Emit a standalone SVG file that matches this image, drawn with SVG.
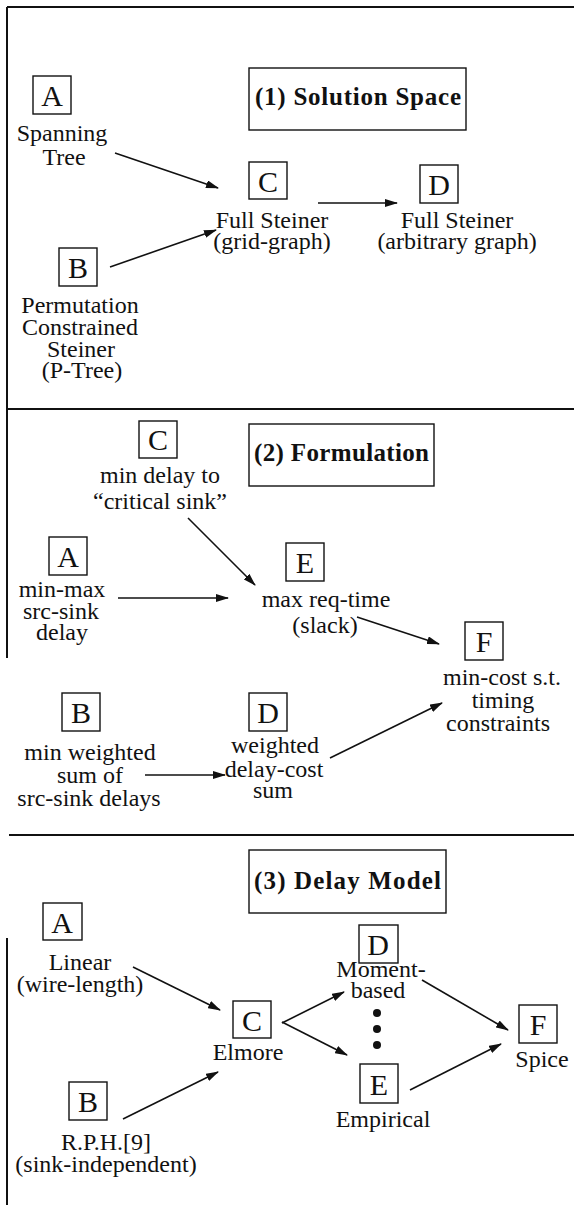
<svg xmlns="http://www.w3.org/2000/svg" width="574" height="1205" viewBox="0 0 574 1205">
<style>
text{font-family:"Liberation Serif","DejaVu Serif",serif;fill:#111}
.l{font-size:24px;text-anchor:middle}
.k{font-size:30px;text-anchor:middle}
.t{font-size:25px;font-weight:bold}
.b{fill:none;stroke:#111;stroke-width:1.4}
.f{stroke:#111;stroke-width:2;fill:none}
.e{stroke:#111;stroke-width:1.6;fill:none;marker-end:url(#ah)}
</style>
<defs>
<marker id="ah" markerUnits="userSpaceOnUse" markerWidth="13" markerHeight="8" refX="12" refY="4" orient="auto">
<path d="M0,0 L13,4 L0,8 z" fill="#111"/>
</marker>
</defs>
<rect width="574" height="1205" fill="#fff"/>
<g id="frame">
<line class="f" x1="7" y1="7" x2="574" y2="7"/>
<line class="f" x1="7" y1="7" x2="7" y2="658"/>
<line class="f" x1="7" y1="938" x2="7" y2="1205"/>
<line class="f" x1="7" y1="409" x2="574" y2="409"/>
<line class="f" x1="9" y1="835" x2="574" y2="835"/>
</g>
<g id="connectors">
<line class="e" x1="115" y1="153" x2="218" y2="188"/>
<line class="e" x1="110" y1="267" x2="216" y2="230"/>
<line class="e" x1="318" y1="203" x2="397" y2="203"/>
<line class="e" x1="188" y1="518" x2="255" y2="585"/>
<line class="e" x1="118" y1="598" x2="228" y2="598"/>
<line class="e" x1="357" y1="617" x2="439" y2="644"/>
<line class="e" x1="145" y1="775" x2="225" y2="775"/>
<line class="e" x1="330" y1="758" x2="442" y2="703"/>
<line class="e" x1="133" y1="967" x2="220" y2="1010"/>
<line class="e" x1="123" y1="1119" x2="218" y2="1072"/>
<line class="e" x1="282" y1="1023" x2="344" y2="992"/>
<line class="e" x1="282" y1="1022" x2="347" y2="1055"/>
<line class="e" x1="422" y1="980" x2="508" y2="1030"/>
<line class="e" x1="410" y1="1090" x2="501" y2="1044"/>
</g>
<g id="s1-title"><rect class="b" x="249" y="68" width="217" height="62"/><text class="t" x="255" y="105" textLength="206">(1) Solution Space</text></g>
<g id="s1-A"><rect class="b" x="33" y="76" width="38" height="38"/><text class="k" x="52" y="106">A</text><text class="l" x="62" y="141">Spanning</text><text class="l" x="64" y="165">Tree</text></g>
<g id="s1-C"><rect class="b" x="249" y="162" width="38" height="37"/><text class="k" x="268" y="192">C</text><text class="l" x="272" y="228">Full Steiner</text><text class="l" x="272" y="249">(grid-graph)</text></g>
<g id="s1-D"><rect class="b" x="420" y="165" width="38" height="38"/><text class="k" x="439" y="195">D</text><text class="l" x="457" y="228">Full Steiner</text><text class="l" x="457" y="249">(arbitrary graph)</text></g>
<g id="s1-B"><rect class="b" x="59" y="248" width="38" height="38"/><text class="k" x="78" y="278">B</text><text class="l" x="80" y="313">Permutation</text><text class="l" x="80" y="335">Constrained</text><text class="l" x="81" y="357">Steiner</text><text class="l" x="82" y="378">(P-Tree)</text></g>
<g id="s2-title"><rect class="b" x="249" y="424" width="185" height="62"/><text class="t" x="254" y="461" textLength="175">(2) Formulation</text></g>
<g id="s2-C"><rect class="b" x="139" y="421" width="38" height="37"/><text class="k" x="158" y="450">C</text><text class="l" x="160" y="483">min delay to</text><text class="l" x="160" y="509">“critical sink”</text></g>
<g id="s2-A"><rect class="b" x="49" y="537" width="38" height="38"/><text class="k" x="68" y="567">A</text><text class="l" x="62" y="597">min-max</text><text class="l" x="61" y="619">src-sink</text><text class="l" x="62" y="640">delay</text></g>
<g id="s2-E"><rect class="b" x="286" y="543" width="38" height="38"/><text class="k" x="305" y="573">E</text><text class="l" x="326" y="607">max req-time</text><text class="l" x="325" y="633">(slack)</text></g>
<g id="s2-F"><rect class="b" x="465" y="622" width="38" height="38"/><text class="k" x="484" y="652">F</text><text class="l" x="502" y="685">min-cost s.t.</text><text class="l" x="503" y="708">timing</text><text class="l" x="498" y="731">constraints</text></g>
<g id="s2-B"><rect class="b" x="62" y="693" width="38" height="38"/><text class="k" x="81" y="723">B</text><text class="l" x="90" y="760">min weighted</text><text class="l" x="90" y="783">sum of</text><text class="l" x="89" y="806">src-sink delays</text></g>
<g id="s2-D"><rect class="b" x="249" y="693" width="38" height="38"/><text class="k" x="268" y="723">D</text><text class="l" x="275" y="753">weighted</text><text class="l" x="274" y="777">delay-cost</text><text class="l" x="273" y="798">sum</text></g>
<g id="s3-title"><rect class="b" x="249" y="850" width="197" height="63"/><text class="t" x="254" y="889" textLength="187">(3) Delay Model</text></g>
<g id="s3-A"><rect class="b" x="43" y="903" width="39" height="37"/><text class="k" x="62" y="933">A</text><text class="l" x="80" y="970">Linear</text><text class="l" x="80" y="992">(wire-length)</text></g>
<g id="s3-C"><rect class="b" x="233" y="1001" width="38" height="37"/><text class="k" x="252" y="1031">C</text><text class="l" x="248" y="1060">Elmore</text></g>
<g id="s3-D"><rect class="b" x="359" y="925" width="39" height="38"/><text class="k" x="378" y="955">D</text><text class="l" x="381" y="977">Moment-</text><text class="l" x="378" y="998">based</text></g>
<g id="s3-dots"><circle cx="377" cy="1013" r="4" fill="#111"/><circle cx="377" cy="1029" r="4" fill="#111"/><circle cx="377" cy="1045" r="4" fill="#111"/></g>
<g id="s3-E"><rect class="b" x="360" y="1064" width="38" height="39"/><text class="k" x="379" y="1095">E</text><text class="l" x="383" y="1127">Empirical</text></g>
<g id="s3-F"><rect class="b" x="519" y="1005" width="38" height="38"/><text class="k" x="538" y="1035">F</text><text class="l" x="542" y="1067">Spice</text></g>
<g id="s3-B"><rect class="b" x="69" y="1082" width="38" height="38"/><text class="k" x="88" y="1112">B</text><text class="l" x="106" y="1150">R.P.H.[9]</text><text class="l" x="106" y="1172">(sink-independent)</text></g>
</svg>
